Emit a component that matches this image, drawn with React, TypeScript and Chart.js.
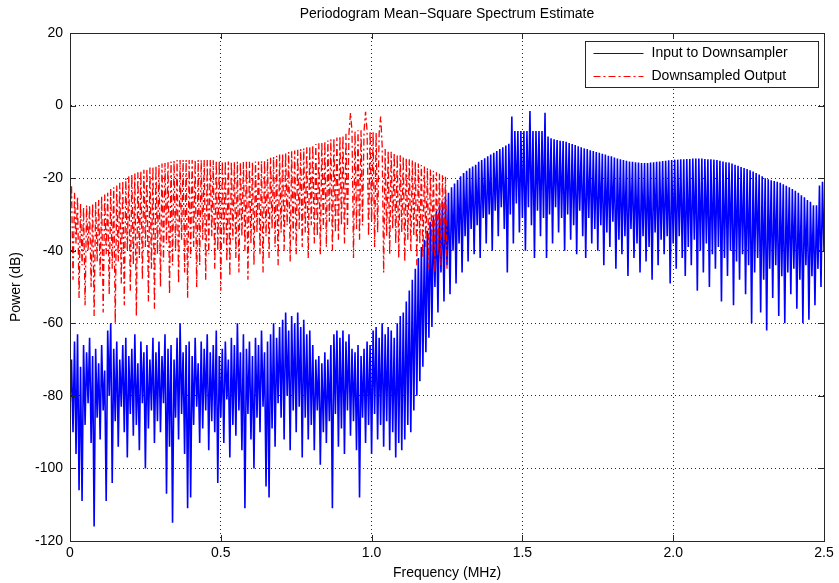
import React, { useEffect, useRef } from 'react';
import { Chart, registerables } from 'chart.js';

Chart.register(...registerables);

// Frequency grid step (MHz) for both periodograms
const FREQ_STEP = 0.005;

// Input to Downsampler (dB), 0.000 .. 2.500 MHz (one row = 0.05 MHz)
const inputDb: number[] = [
  -84, -70, -90, -65, -96, -63, -106, -72, -109, -66,
  -88, -68, -82, -64, -93, -69, -116, -67, -86, -71,
  -92, -66, -84, -73, -109, -62, -80, -60, -104, -67,
  -87, -65, -94, -70, -83, -66, -90, -64, -97, -69,
  -85, -67, -91, -63, -88, -71, -95, -65, -82, -68,
  -100, -66, -89, -70, -84, -64, -93, -68, -87, -65,
  -90, -69, -82, -63, -107, -67, -94, -66, -115, -70,
  -86, -64, -92, -60, -85, -68, -96, -66, -111, -65,
  -108, -69, -88, -64, -83, -71, -93, -65, -89, -67,
  -84, -63, -95, -68, -87, -66, -90, -62, -104, -69,
  -86, -67, -93, -65, -81, -70, -97, -64, -88, -66,
  -91, -60, -84, -68, -95, -63, -111, -67, -85, -65,
  -92, -69, -100, -64, -86, -66, -90, -62, -83, -68,
  -105, -65, -108, -63, -89, -60, -94, -64, -82, -61,
  -86, -59, -92, -57, -80, -62, -95, -58, -84, -60,
  -90, -57, -83, -61, -97, -59, -86, -63, -92, -62,
  -88, -66, -95, -70, -84, -69, -99, -71, -90, -68,
  -93, -70, -87, -66, -111, -63, -85, -62, -94, -64,
  -89, -62, -96, -65, -84, -63, -91, -67, -87, -68,
  -95, -66, -108, -69, -86, -67, -93, -65, -88, -66,
  -96, -62, -85, -61, -92, -64, -88, -60, -94, -63,
  -87, -61, -95, -62, -90, -64, -97, -60, -93, -58,
  -95, -57, -92, -54, -88, -51, -90, -48, -84, -45,
  -80, -42, -76, -39, -72, -37, -68, -34.5, -64, -32,
  -61, -30.5, -50, -29, -57, -27.5, -46, -26.5, -54, -25,
  -44, -24, -52, -22.5, -40, -21.5, -49, -20.5, -38, -19.5,
  -46, -18.6, -36, -18, -43, -17.3, -34, -16.8, -41, -16.3,
  -33, -15.5, -42, -15, -31, -14.5, -38, -14, -30, -13.5,
  -40, -13, -29, -12.5, -36, -12, -28, -11.5, -34, -11,
  -46, -10.5, -30, -3, -38, -7, -27, -7, -35, -7,
  -31, -7, -40, -7, -28, -1.5, -33, -7, -42, -7,
  -29, -7, -36, -7, -31, -2, -42, -8.5, -30, -9,
  -38, -9.3, -28, -9.5, -35, -9.7, -31, -9.8, -40, -10,
  -30, -10.3, -37, -10.6, -33, -10.9, -41, -11.2, -29, -11.5,
  -36, -11.8, -42, -12, -31, -12.3, -38, -12.5, -34, -12.8,
  -40, -13, -33, -13.3, -44, -13.5, -35, -13.8, -39, -14,
  -32, -14.3, -45, -14.6, -37, -14.8, -41, -15, -36, -15.2,
  -47, -15.4, -34, -15.5, -42, -15.6, -38, -15.7, -46, -15.8,
  -36, -15.8, -43, -15.8, -39, -15.7, -48, -15.6, -35, -15.5,
  -44, -15.4, -37, -15.3, -41, -15.2, -36, -15.1, -49, -15,
  -38, -14.9, -45, -14.9, -36, -14.8, -42, -14.8, -47, -14.7,
  -39, -14.7, -44, -14.6, -37, -14.6, -51, -14.6, -40, -14.6,
  -46, -14.7, -38, -14.8, -50, -14.8, -41, -14.9, -45, -15,
  -39, -15.2, -54, -15.4, -42, -15.6, -47, -15.7, -40, -16,
  -55, -16.3, -43, -16.6, -48, -16.9, -41, -17.2, -52, -17.5,
  -44, -17.8, -60, -18.2, -46, -18.6, -42, -19, -57, -19.5,
  -48, -20, -62, -20.3, -45, -20.6, -53, -20.8, -44, -21,
  -58, -21.3, -47, -21.7, -60, -22.1, -46, -22.5, -52, -23,
  -45, -23.5, -56, -24, -48, -24.7, -60, -25.3, -44, -26,
  -59, -26.5, -47, -27.5, -55, -27.5, -45, -22, -50, -21,
  -40,
];

// Downsampled Output (dB), 0.000 .. 1.250 MHz (one row = 0.05 MHz)
const outputDb: number[] = [
  -30, -22, -48, -24, -38, -25, -53, -27, -44, -28,
  -55, -27.5, -40, -27.5, -50, -27, -58, -26.5, -43, -26,
  -47, -25, -57, -24.5, -41, -24, -52, -23, -45, -22.5,
  -60, -22, -43, -21.3, -49, -20.7, -55, -20, -40, -19.5,
  -51, -19, -44, -18.7, -58, -18.4, -42, -18, -48, -17.7,
  -39, -17.4, -54, -17.1, -45, -16.8, -56, -16.6, -41, -16.3,
  -50, -16, -43, -15.8, -38, -15.6, -52, -15.4, -44, -15.2,
  -40, -15, -49, -15, -37, -15, -46, -15, -53, -15,
  -42, -15, -39, -15, -50, -15, -44, -15, -37, -15,
  -48, -15, -41, -15, -36, -15.1, -45, -15.2, -40, -15.2,
  -51, -15.3, -38, -15.3, -43, -15.4, -47, -15.4, -37, -15.5,
  -42, -15.5, -46, -15.5, -36, -15.5, -40, -15.5, -48, -15.5,
  -38, -15.5, -44, -15.4, -35, -15.4, -41, -15.3, -46, -15,
  -36, -14.7, -42, -14.4, -34, -14.1, -39, -13.8, -44, -13.5,
  -35, -13.2, -40, -13, -33, -12.8, -43, -12.6, -37, -12.4,
  -41, -12.2, -34, -12, -39, -11.8, -35, -11.5, -42, -11.2,
  -33, -10.9, -38, -10.6, -36, -10.4, -41, -10.1, -34, -9.8,
  -39, -9.6, -32, -9.3, -40, -9, -35, -8.8, -37, -8.5,
  -33, -8.2, -38, -7.8, -34, -7.5, -2, -7, -42, -7,
  -34, -6.8, -37, -6.8, -33, -6.9, -1.7, -7, -36, -7,
  -32, -7.2, -39, -7.4, -35, -7.6, -3, -11, -46, -12,
  -36, -12.3, -41, -12.7, -34, -13, -38, -13.4, -42, -13.7,
  -35, -14, -43, -14.4, -37, -14.8, -40, -15.1, -36, -15.5,
  -44, -16, -38, -16.4, -42, -16.8, -39, -17.2, -45, -17.6,
  -40, -18, -46, -18.4, -41, -18.8, -44, -19.2, -38, -19.6,
  -45,
];

const seriesNames = ['Input to Downsampler', 'Downsampled Output'];
const seriesColors = ['#0000ff', '#ff0000'];
const redDash = [7, 3, 2, 3];

const xMin = 0, xMax = 2.5, xStep = 0.5;
const yMin = -120, yMax = 20, yStep = 20;

const FONT = '"Liberation Sans", Arial, Helvetica, sans-serif';

function toPoints(vals: number[]) {
  return vals.map((v, i) => ({ x: Math.round(i * FREQ_STEP * 1000) / 1000, y: v }));
}

const framePlugin = {
  id: 'matlabFrame',
  afterDraw(chart: any) {
    const { ctx, chartArea } = chart;
    const { left, right, top, bottom } = chartArea;
    const xs = chart.scales.x;
    const ys = chart.scales.y;
    ctx.save();
    ctx.strokeStyle = '#262626';
    ctx.lineWidth = 1;
    ctx.setLineDash([]);
    ctx.strokeRect(Math.round(left) + 0.5, Math.round(top) + 0.5, Math.round(right - left), Math.round(bottom - top));
    const tl = 6;
    ctx.beginPath();
    xs.ticks.forEach((t: any) => {
      const px = Math.round(xs.getPixelForValue(t.value)) + 0.5;
      ctx.moveTo(px, bottom); ctx.lineTo(px, bottom - tl);
      ctx.moveTo(px, top); ctx.lineTo(px, top + tl);
    });
    ys.ticks.forEach((t: any) => {
      const py = Math.round(ys.getPixelForValue(t.value)) + 0.5;
      ctx.moveTo(left, py); ctx.lineTo(left + tl, py);
      ctx.moveTo(right, py); ctx.lineTo(right - tl, py);
    });
    ctx.stroke();

    // legend box
    const bw = 233, bh = 46;
    const bx = Math.round(right - 6 - bw) + 0.5;
    const by = Math.round(top + 8) + 0.5;
    ctx.fillStyle = '#ffffff';
    ctx.fillRect(bx, by, bw, bh);
    ctx.strokeStyle = '#262626';
    ctx.strokeRect(bx, by, bw, bh);
    ctx.font = `14px ${FONT}`;
    ctx.textBaseline = 'middle';
    ctx.textAlign = 'left';
    seriesNames.forEach((name, i) => {
      const ly = Math.round(by + 11 + i * 23) + 0.5;
      ctx.strokeStyle = seriesColors[i];
      ctx.setLineDash(i === 1 ? redDash : []);
      ctx.beginPath();
      ctx.moveTo(bx + 8, ly);
      ctx.lineTo(bx + 58, ly);
      ctx.stroke();
      ctx.setLineDash([]);
      ctx.fillStyle = '#000000';
      ctx.fillText(name, bx + 66, ly);
    });
    ctx.restore();
  },
};

export default function App() {
  const canvasRef = useRef<HTMLCanvasElement | null>(null);

  useEffect(() => {
    document.body.style.margin = '0';
    if (!canvasRef.current) return;
    const chart = new Chart(canvasRef.current, {
      type: 'line',
      data: {
        datasets: [
          {
            label: seriesNames[0],
            data: toPoints(inputDb),
            borderColor: seriesColors[0],
            borderWidth: 1.6,
            pointRadius: 0,
            fill: false,
            tension: 0,
            order: 1,
          },
          {
            label: seriesNames[1],
            data: toPoints(outputDb),
            borderColor: seriesColors[1],
            borderWidth: 1.3,
            borderDash: redDash,
            pointRadius: 0,
            fill: false,
            tension: 0,
            order: 0,
          },
        ],
      },
      options: {
        animation: false,
        responsive: true,
        maintainAspectRatio: false,
        parsing: false as any,
        normalized: true,
        layout: { padding: { left: 0, right: 15, top: 0, bottom: 0 } },
        plugins: {
          legend: { display: false },
          tooltip: { enabled: false },
          title: {
            display: true,
            text: 'Periodogram Mean\u2212Square Spectrum Estimate',
            color: '#000',
            font: { family: FONT, size: 14, weight: 'normal' },
            padding: { top: 6, bottom: 10.2 },
            fullSize: false,
          },
        },
        scales: {
          x: {
            type: 'linear',
            min: xMin,
            max: xMax,
            afterFit: (s: any) => { s.height = 42; },
            ticks: {
              stepSize: xStep,
              color: '#000',
              padding: 4,
              font: { family: FONT, size: 14 },
              maxRotation: 0,
            },
            grid: {
              color: 'rgba(0,0,0,0.85)',
              lineWidth: 1,
              drawTicks: false,
            },
            border: { display: true, color: '#262626', dash: [1, 3] } as any,
            title: {
              display: true,
              text: 'Frequency (MHz)',
              color: '#000',
              font: { family: FONT, size: 14 },
              padding: { top: 0, bottom: 1 },
            },
          },
          y: {
            type: 'linear',
            min: yMin,
            max: yMax,
            afterFit: (s: any) => { s.width = 70; },
            ticks: {
              stepSize: yStep,
              color: '#000',
              padding: 7,
              font: { family: FONT, size: 14 },
            },
            grid: {
              color: 'rgba(0,0,0,0.85)',
              lineWidth: 1,
              drawTicks: false,
            },
            border: { display: true, color: '#262626', dash: [1, 3] } as any,
            title: {
              display: true,
              text: 'Power (dB)',
              color: '#000',
              font: { family: FONT, size: 14 },
              padding: { top: 8, bottom: 0 },
            },
          },
        },
      },
      plugins: [framePlugin],
    });
    return () => chart.destroy();
  }, []);

  return (
    <div style={{ position: 'relative', width: '839px', height: '583px' }}>
      <canvas ref={canvasRef} />
    </div>
  );
}
